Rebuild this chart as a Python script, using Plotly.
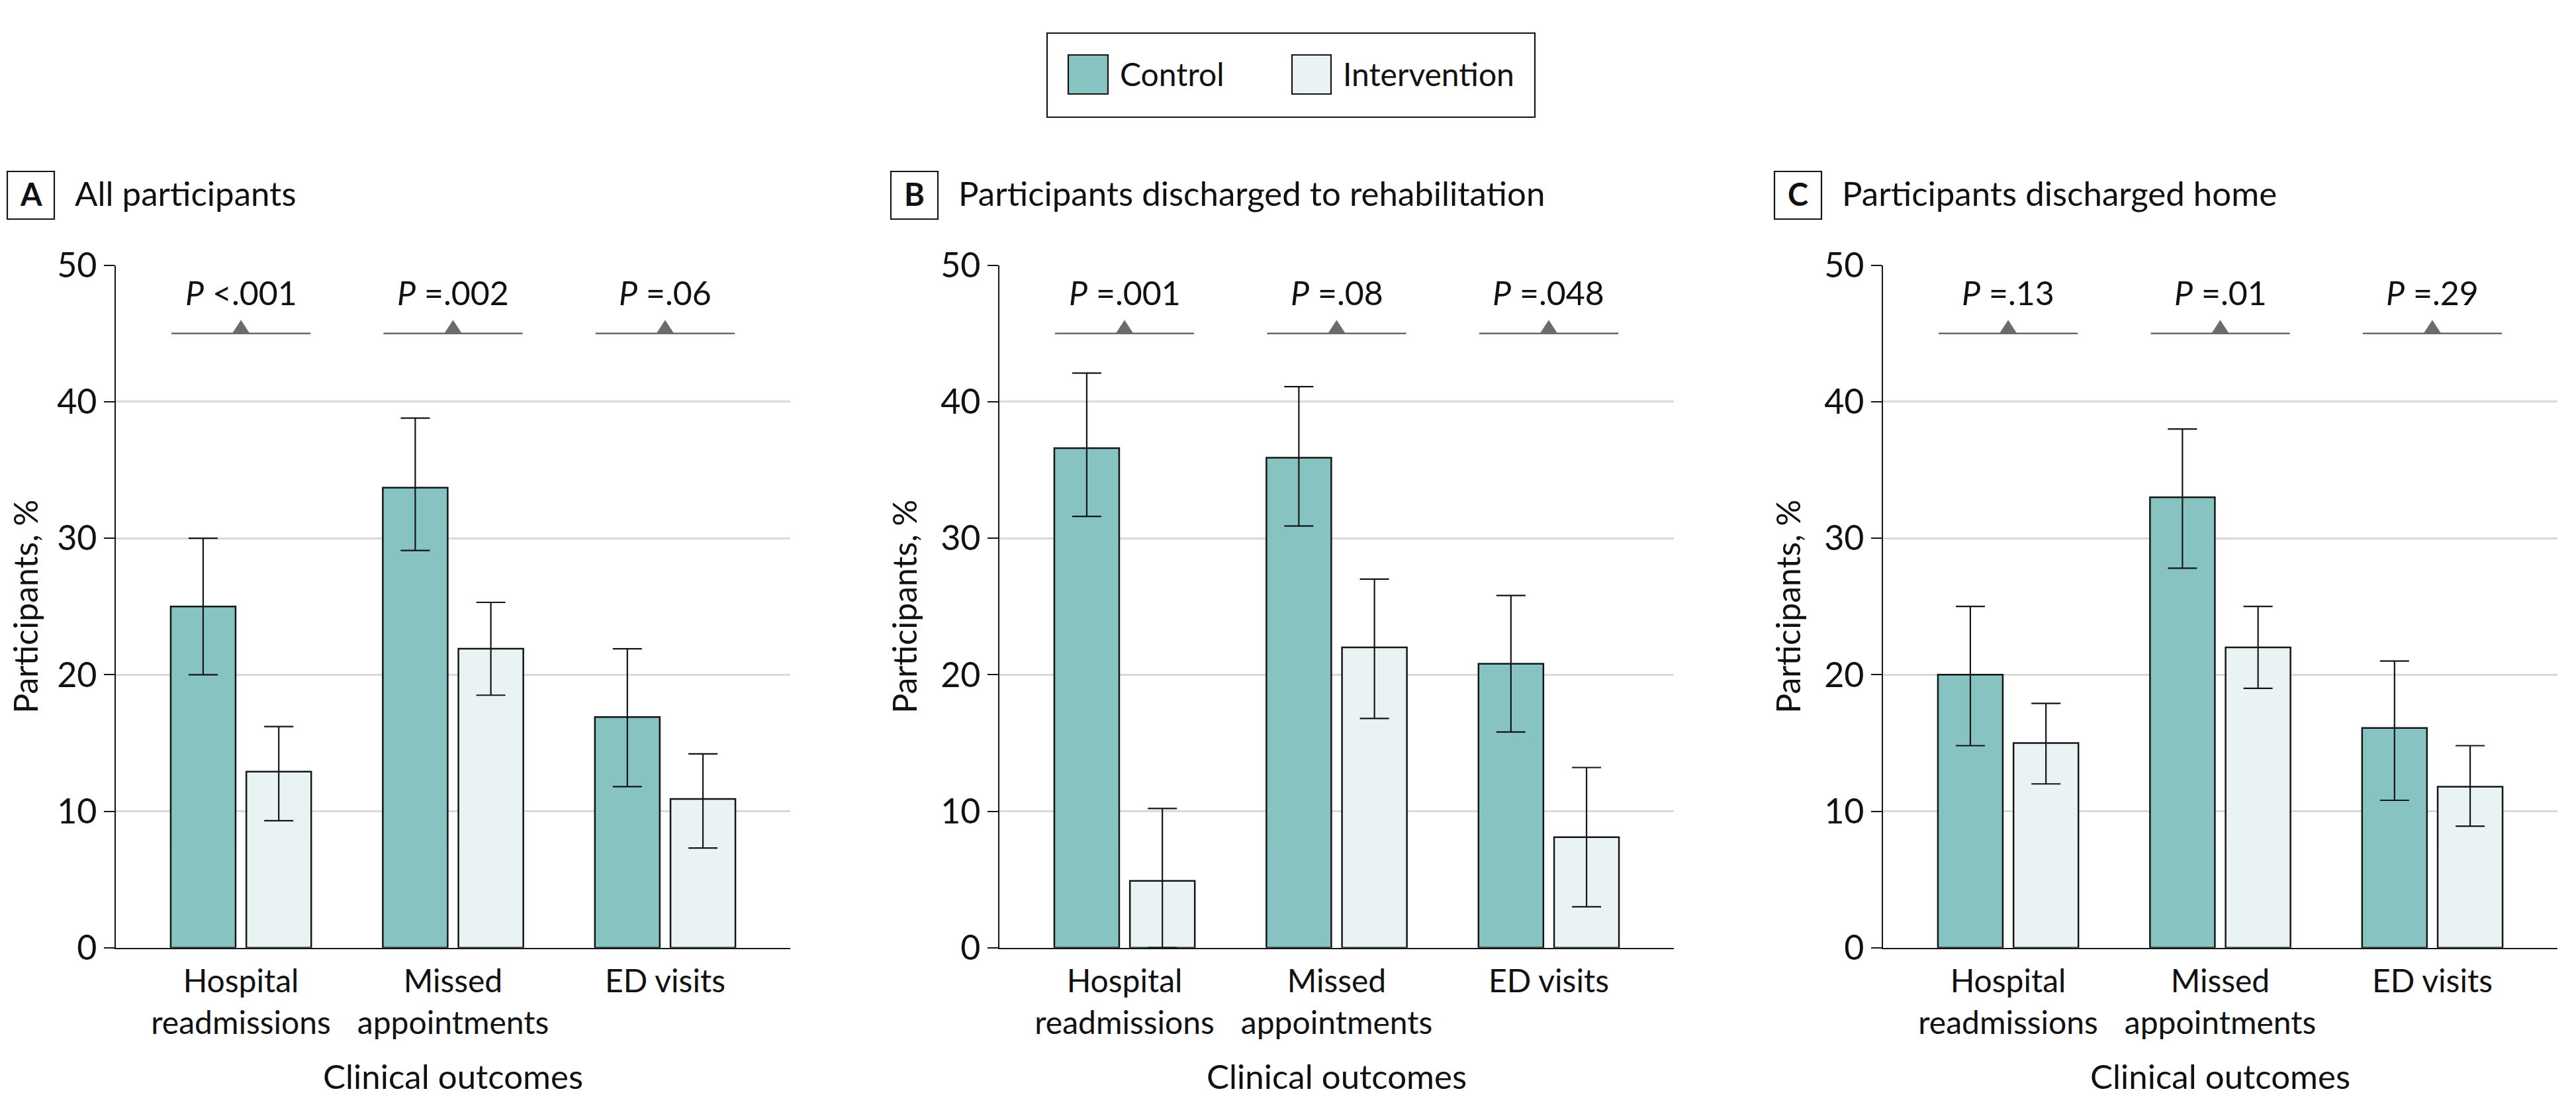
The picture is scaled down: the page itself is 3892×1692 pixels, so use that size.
import plotly.graph_objects as go

# ---------------- data ----------------
categories = ["Hospital<br>readmissions", "Missed<br>appointments", "ED visits"]
panel_letters = ["A", "B", "C"]
panel_titles = ["All participants", "Participants discharged to rehabilitation", "Participants discharged home"]

control_A = [25.0, 33.7, 16.9]
control_A_lo = [20.0, 29.1, 11.8]
control_A_hi = [30.0, 38.8, 21.9]
interv_A = [12.9, 21.9, 10.9]
interv_A_lo = [9.3, 18.5, 7.3]
interv_A_hi = [16.2, 25.3, 14.2]

control_B = [36.6, 35.9, 20.8]
control_B_lo = [31.6, 30.9, 15.8]
control_B_hi = [42.1, 41.1, 25.8]
interv_B = [4.9, 22.0, 8.1]
interv_B_lo = [0.0, 16.8, 3.0]
interv_B_hi = [10.2, 27.0, 13.2]

control_C = [20.0, 33.0, 16.1]
control_C_lo = [14.8, 27.8, 10.8]
control_C_hi = [25.0, 38.0, 21.0]
interv_C = [15.0, 22.0, 11.8]
interv_C_lo = [12.0, 19.0, 8.9]
interv_C_hi = [17.9, 25.0, 14.8]

p_A = ["&lt;.001", "=.002", "=.06"]
p_B = ["=.001", "=.08", "=.048"]
p_C = ["=.13", "=.01", "=.29"]

y_ticks = [0, 10, 20, 30, 40, 50]

# ---------------- style / layout ----------------
OFF = 8  # browser body margin
W, H = 3892 - 2 * OFF, 1692 - 2 * OFF
FONT = "Lato"
CONTROL_COLOR = "#86C3C1"
INTERV_COLOR = "#EAF3F4"
EDGE = "#151515"
GRID = "#D9D9D9"
BRACKET = "#6B6B6B"

panel_left_px = [175, 1510, 2845]
panel_w_px = 1019
plot_top_px, plot_bot_px = 400.7, 1431.7


def px(x):
    return (x - OFF) / W


def py(y):
    return 1 - (y - OFF) / H


panels = [
    (control_A, control_A_lo, control_A_hi, interv_A, interv_A_lo, interv_A_hi, p_A),
    (control_B, control_B_lo, control_B_hi, interv_B, interv_B_lo, interv_B_hi, p_B),
    (control_C, control_C_lo, control_C_hi, interv_C, interv_C_lo, interv_C_hi, p_C),
]

fig = go.Figure()
shapes = []
annotations = []
xpos = list(range(len(categories)))

for k, (c, clo, chi, iv, ilo, ihi, pv) in enumerate(panels):
    sfx = "" if k == 0 else str(k + 1)
    xa, ya = "x" + sfx, "y" + sfx
    for vals, lo, hi, color, name in [(c, clo, chi, CONTROL_COLOR, "Control"),
                                      (iv, ilo, ihi, INTERV_COLOR, "Intervention")]:
        fig.add_trace(go.Bar(
            x=xpos, y=vals, name=name, showlegend=False,
            marker=dict(color=color, line=dict(color=EDGE, width=2.5)),
            error_y=dict(type="data", symmetric=False,
                         array=[h - v for h, v in zip(hi, vals)],
                         arrayminus=[v - l for v, l in zip(vals, lo)],
                         color=EDGE, thickness=2.2, width=22),
            xaxis=xa, yaxis=ya,
        ))
    L = panel_left_px[k]
    fig.layout["xaxis" + sfx] = dict(
        domain=[px(L), px(L + panel_w_px)], anchor=ya,
        range=[-0.59, 2.59], tickvals=xpos, ticktext=categories,
        showline=True, linecolor=EDGE, linewidth=2.2, ticks="", showgrid=False,
        zeroline=False, tickfont=dict(family=FONT, size=48, color="#111"),
        ticklabelstandoff=8,
        title=dict(text="Clinical outcomes", font=dict(family=FONT, size=51, color="#111"), standoff=39),
        automargin=False, fixedrange=True,
    )
    fig.layout["yaxis" + sfx] = dict(
        domain=[py(plot_bot_px), py(plot_top_px)], anchor=xa,
        range=[0, 50], tickvals=y_ticks,
        showline=True, linecolor=EDGE, linewidth=2.2,
        ticks="outside", ticklen=16, tickwidth=2.2, tickcolor=EDGE,
        showgrid=True, gridcolor=GRID, gridwidth=3, zeroline=False,
        tickfont=dict(family=FONT, size=52, color="#111"),
        title=dict(text="Participants, %", font=dict(family=FONT, size=50, color="#111"), standoff=20),
        automargin=False, fixedrange=True,
    )
    # p-value brackets
    for i, p in enumerate(pv):
        shapes.append(dict(type="line", xref=xa, yref=ya, x0=i - 0.328, x1=i + 0.328, y0=45, y1=45,
                           line=dict(color=BRACKET, width=2.5), layer="above"))
        shapes.append(dict(type="path", xref=xa, yref=ya, xsizemode="pixel", ysizemode="pixel",
                           xanchor=i, yanchor=45, path="M-13,0 L13,0 L0,20 Z",
                           fillcolor=BRACKET, line=dict(color=BRACKET, width=0.5), layer="above"))
        annotations.append(dict(xref=xa, yref=ya, x=i, y=48, text="<i>P</i> " + p, showarrow=False,
                                xanchor="center", yanchor="middle",
                                font=dict(family=FONT, size=50, color="#111")))
    # panel label box and title
    shapes.append(dict(type="rect", xref="paper", yref="paper",
                       x0=px(L - 164), x1=px(L - 93), y0=py(331), y1=py(259),
                       line=dict(color=EDGE, width=2.2), fillcolor="rgba(0,0,0,0)"))
    annotations.append(dict(xref="paper", yref="paper", x=px(L - 128.5), y=py(293),
                            text="<b>" + panel_letters[k] + "</b>", showarrow=False,
                            xanchor="center", yanchor="middle",
                            font=dict(family=FONT, size=47, color="#111")))
    annotations.append(dict(xref="paper", yref="paper", x=px(L - 64), y=py(292),
                            text=panel_titles[k], showarrow=False,
                            xanchor="left", yanchor="middle",
                            font=dict(family=FONT, size=51, color="#111")))

# custom legend
shapes.append(dict(type="rect", xref="paper", yref="paper", x0=px(1582), x1=px(2319), y0=py(177), y1=py(50),
                   line=dict(color=EDGE, width=2.2), fillcolor="white"))
for (x0, x1, color, label, tx) in [(1614, 1674, CONTROL_COLOR, "Control", 1690),
                                   (1952, 2011, INTERV_COLOR, "Intervention", 2027)]:
    shapes.append(dict(type="rect", xref="paper", yref="paper", x0=px(x0), x1=px(x1), y0=py(142), y1=py(83),
                       line=dict(color=EDGE, width=2.2), fillcolor=color))
    annotations.append(dict(xref="paper", yref="paper", x=px(tx), y=py(112), text=label, showarrow=False,
                            xanchor="left", yanchor="middle",
                            font=dict(family=FONT, size=48, color="#111")))

fig.update_layout(
    template="none",
    width=W, height=H, autosize=False,
    margin=dict(l=0, r=0, t=0, b=0),
    paper_bgcolor="white", plot_bgcolor="white",
    barmode="group", bargap=0.287, bargroupgap=0.142,
    showlegend=False,
    shapes=shapes, annotations=annotations,
    font=dict(family=FONT, color="#111"),
)

fig.write_html("out.html")
